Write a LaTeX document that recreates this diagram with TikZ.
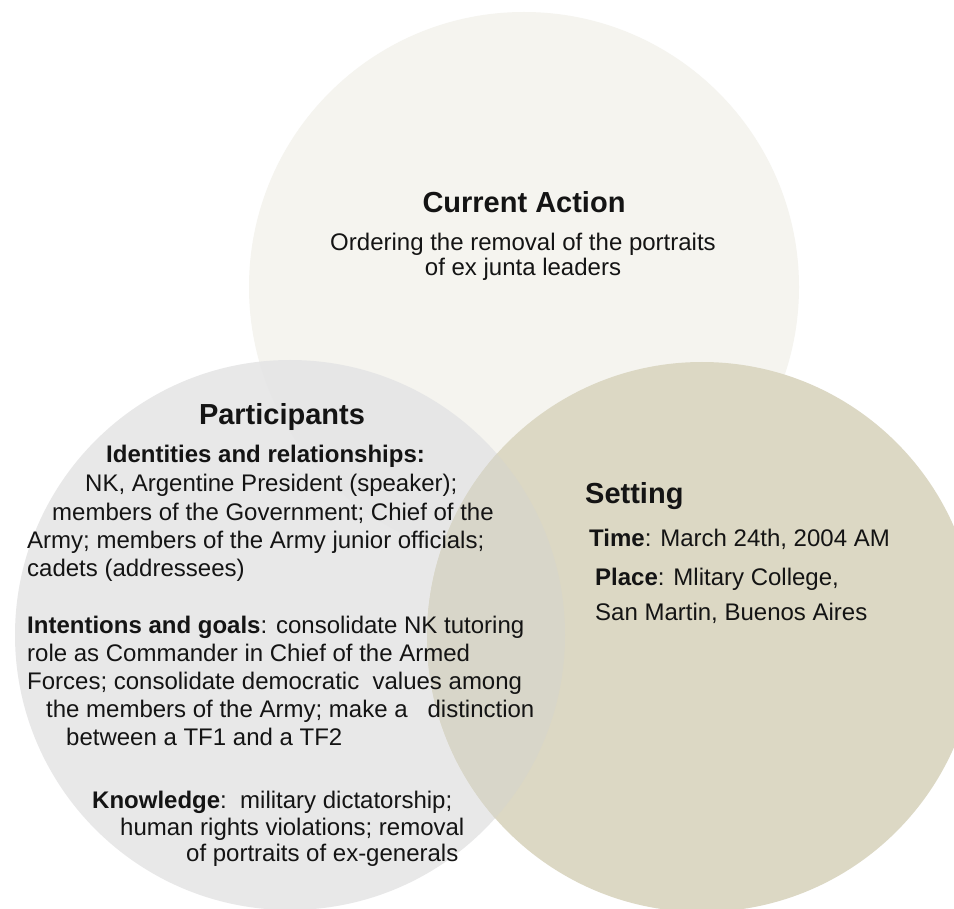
\documentclass[tikz,border=0pt]{standalone}
\usepackage{fontspec}
\setmainfont{Liberation Sans}
\definecolor{ink}{HTML}{141414}
\definecolor{actionfill}{HTML}{F5F4EF}
\definecolor{partfill}{RGB}{228,228,229}
\definecolor{setfill}{HTML}{DCD8C4}
\definecolor{bothfill}{HTML}{D8D6C9}
\begin{document}
\begin{tikzpicture}[x=1pt,y=-1pt,
  venn/.style={circle, minimum size=550pt, inner sep=0pt, draw=none},
  txt/.style={anchor=base west, inner sep=0pt, font=\fontsize{24}{28}\selectfont, text=ink},
  ctxt/.style={anchor=base, inner sep=0pt, font=\fontsize{24}{28}\selectfont, text=ink},
  head/.style={anchor=base, inner sep=0pt, font=\fontsize{29}{34}\selectfont\bfseries, text=ink},
  headw/.style={head, anchor=base west},
]
\useasboundingbox (0,0) rectangle (954,909);
\fill[white] (0,0) rectangle (954,909);
\clip (0,0) rectangle (954,909);

% the three overlapping circles
\node[venn, fill=actionfill] (action) at (524,287) {};
\node[venn, fill=partfill, fill opacity=0.85] (part) at (290,635) {};
\node[venn, fill=setfill] (set) at (702,637) {};
% slightly greyer tone where Participants and Setting overlap
\begin{scope}
  \clip (part.center) circle[radius=275pt];
  \fill[bothfill] (set.center) circle[radius=275pt];
\end{scope}

% Current Action
\node[head] (acthead) at (524,213) {Current Action};
\node[ctxt] (act1) at (523,251) {Ordering the removal of the portraits};
\node[ctxt] (act2) at (523,276) {of ex junta leaders};

% Participants
\node[head] (parthead) at (282,425) {Participants};
\node[txt] (p1) at (106,463) {\textbf{Identities and relationships:}};
\node[txt] (p2) at (85,491) {NK, Argentine President (speaker);};
\node[txt] (p3) at (52,520) {members of the Government; Chief of the};
\node[txt] (p4) at (27,548) {Army; members of the Army junior officials;};
\node[txt] (p5) at (27,576) {cadets (addressees)};
\node[txt] (p6) at (27,633) {\textbf{Intentions and goals}: consolidate NK tutoring};
\node[txt] (p7) at (27,661) {role as Commander in Chief of the Armed};
\node[txt] (p8) at (27,689) {Forces; consolidate democratic\ \ values among};
\node[txt] (p9) at (46,717) {the members of the Army; make a\ \ \ distinction};
\node[txt] (p10) at (66,745) {between a TF1 and a TF2};
\node[txt] (p11) at (92,808) {\textbf{Knowledge}:\ \ military dictatorship;};
\node[txt] (p12) at (120,835) {human rights violations; removal};
\node[txt] (p13) at (186,861) {of portraits of ex-generals};

% Setting
\node[headw] (sethead) at (585,503) {Setting};
\node[txt] (s1) at (589,546) {\textbf{Time}: March 24th, 2004 AM};
\node[txt] (s2) at (595,585) {\textbf{Place}: Mlitary College,};
\node[txt] (s3) at (595,620) {San Martin, Buenos Aires};
\end{tikzpicture}
\end{document}
